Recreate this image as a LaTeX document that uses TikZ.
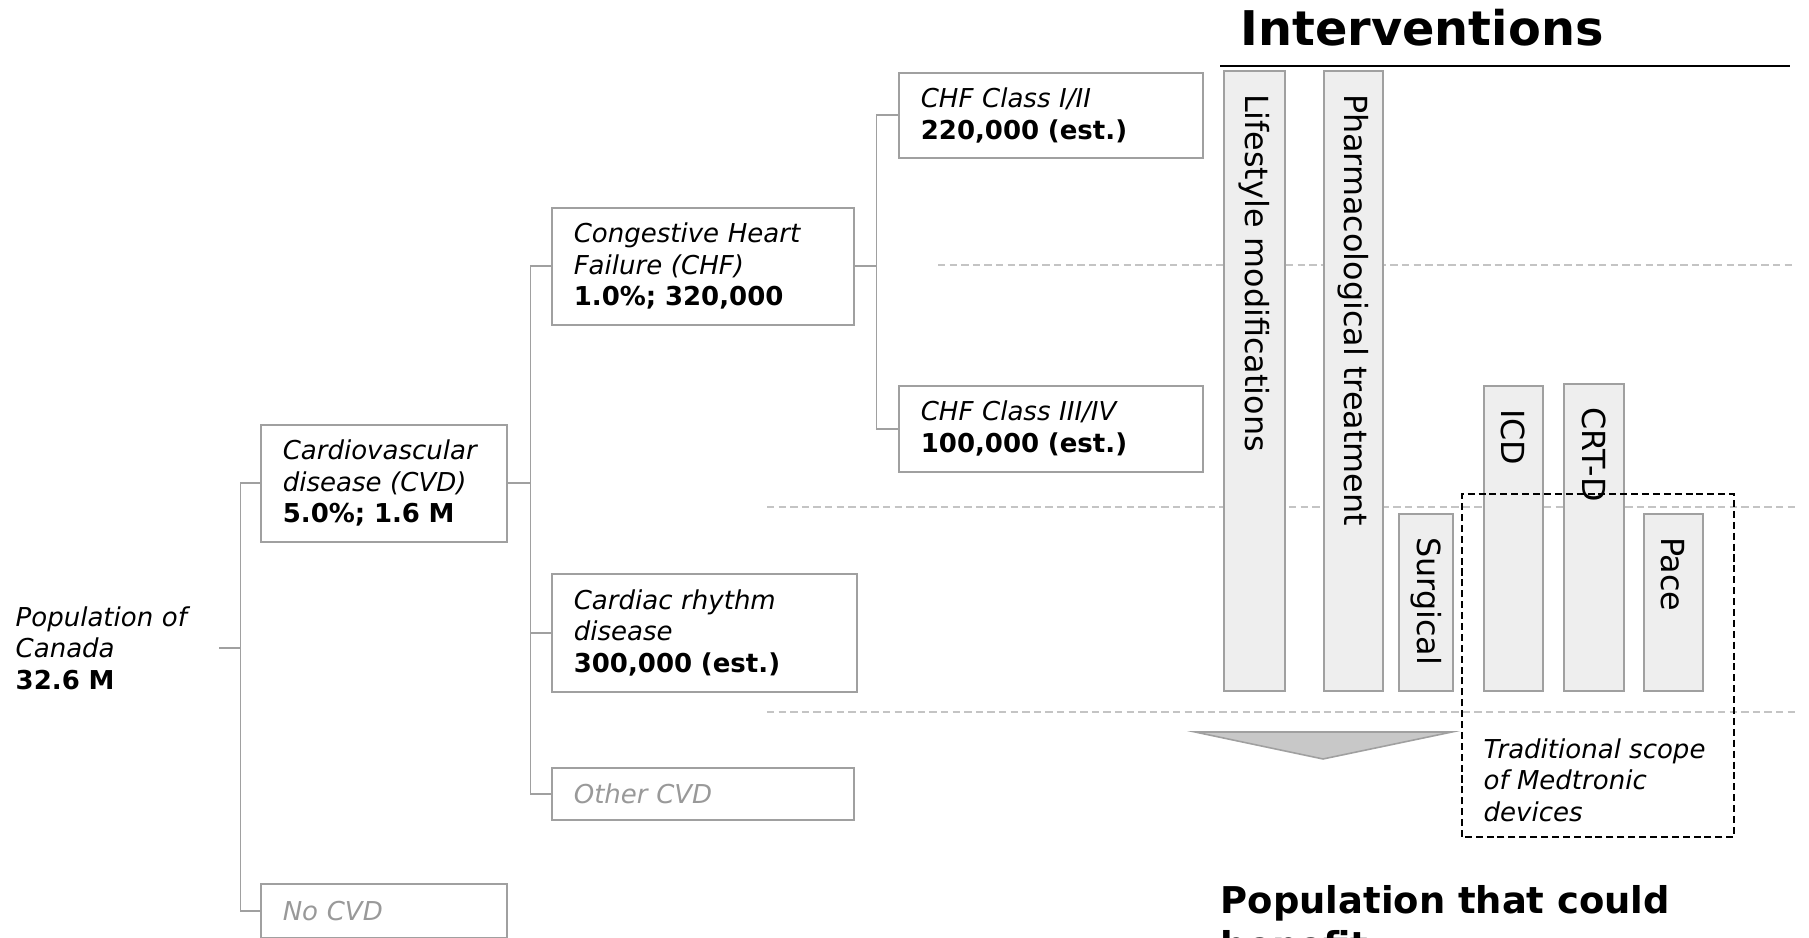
\documentclass[tikz,border=0pt]{standalone}
\usepackage{fontspec}
\setmainfont{DejaVu Sans}
\definecolor{linegray}{HTML}{A0A0A0}
\definecolor{barfill}{HTML}{EEEEEE}
\definecolor{dashgray}{HTML}{C4C4C4}
\definecolor{textgray}{HTML}{999999}
\definecolor{trifill}{HTML}{C8C8C8}
\tikzset{
  treebox/.style={draw=linegray, line width=0.45pt, anchor=north west,
    inner xsep=0.22cm, inner ysep=0pt, align=left,
    font=\fontsize{7.4}{9}\selectfont},
  link/.style={draw=linegray, line width=0.45pt},
  barbox/.style={draw=linegray, fill=barfill, line width=0.45pt,
    inner sep=0pt, anchor=south west},
  bartext/.style={rotate=-90, anchor=west, inner sep=0pt,
    font=\fontsize{9.05}{10}\selectfont},
  gridline/.style={draw=dashgray, line width=0.4pt, dash pattern=on 2.1pt off 1.2pt},
  scopeline/.style={draw=black, line width=0.5pt, dash pattern=on 2pt off 1.1pt}
}

\begin{document}
\begin{tikzpicture}
  \useasboundingbox (0,0) rectangle (18.09,9.38);
  \clip (0,0) rectangle (18.09,9.38);

  % level lines
  \draw[gridline] (9.38,6.73) -- (17.96,6.73);
  \draw[gridline] (7.67,4.31) -- (17.96,4.31);
  \draw[gridline] (7.67,2.26) -- (17.96,2.26);

  % population tree
  \node[anchor=west, inner sep=0pt, text width=2.03cm, align=left,
    font=\fontsize{7.4}{9}\selectfont] (pop) at (0.15,2.90)
    {\textit{Population of}\\\textit{Canada}\\\textbf{32.6 M}};
  \node[treebox, text width=2.02cm, minimum height=1.17cm] (cvd) at (2.60,5.14)
    {\textit{Cardiovascular}\\\textit{disease (CVD)}\\\textbf{5.0\%; 1.6 M}};
  \node[treebox, text width=2.02cm, minimum height=0.54cm, text=textgray] (nocvd) at (2.60,0.55)
    {\textit{No CVD}};
  \node[treebox, text width=2.58cm, minimum height=1.17cm] (chf) at (5.51,7.31)
    {\textit{Congestive Heart}\\\textit{Failure (CHF)}\\\textbf{1.0\%; 320,000}};
  \node[treebox, text width=2.61cm, minimum height=1.18cm] (crd) at (5.51,3.65)
    {\textit{Cardiac rhythm}\\\textit{disease}\\\textbf{300,000 (est.)}};
  \node[treebox, text width=2.58cm, minimum height=0.52cm, text=textgray] (other) at (5.51,1.71)
    {\textit{Other CVD}};
  \node[treebox, text width=2.60cm, minimum height=0.85cm] (chfa) at (8.98,8.66)
    {\textit{CHF Class I/II}\\\textbf{220,000 (est.)}};
  \node[treebox, text width=2.60cm, minimum height=0.86cm] (chfb) at (8.98,5.53)
    {\textit{CHF Class III/IV}\\\textbf{100,000 (est.)}};

  \draw[link] (pop.east) -- ++(0.21,0) |- (cvd.west);
  \draw[link] (pop.east) -- ++(0.21,0) |- (nocvd.west);
  \draw[link] (cvd.east) -- ++(0.23,0) |- (chf.west);
  \draw[link] (cvd.east) -- ++(0.23,0) |- (crd.west);
  \draw[link] (cvd.east) -- ++(0.23,0) |- (other.west);
  \draw[link] (chf.east) -- ++(0.22,0) |- (chfa.west);
  \draw[link] (chf.east) -- ++(0.22,0) |- (chfb.west);

  % interventions
  \node[anchor=base west, inner sep=0pt, font=\fontsize{13.6}{16}\selectfont\bfseries]
    (interv) at (12.40,8.92) {Interventions};
  \draw[line width=0.6pt] (12.20,8.72) -- (17.90,8.72);

  \node[barbox, minimum width=0.61cm, minimum height=6.20cm] (life) at (12.23,2.46) {};
  \node[barbox, minimum width=0.59cm, minimum height=6.20cm] (pharma) at (13.23,2.46) {};
  \node[barbox, minimum width=0.54cm, minimum height=1.77cm] (surg) at (13.98,2.46) {};
  \node[barbox, minimum width=0.59cm, minimum height=3.05cm] (icd) at (14.83,2.46) {};
  \node[barbox, minimum width=0.60cm, minimum height=3.07cm] (crtd) at (15.63,2.46) {};
  \node[barbox, minimum width=0.59cm, minimum height=1.77cm] (pace) at (16.43,2.46) {};

  \node[bartext] at ([yshift=-0.23cm]life.north) {Lifestyle modifications};
  \node[bartext] at ([yshift=-0.23cm]pharma.north) {Pharmacological treatment};
  \node[bartext] at ([yshift=-0.23cm]surg.north) {Surgical};
  \node[bartext] at ([yshift=-0.23cm]icd.north) {ICD};
  \node[bartext] at ([yshift=-0.23cm]crtd.north) {CRT-D};
  \node[bartext] at ([yshift=-0.23cm]pace.north) {Pace};

  % funnel arrow
  \draw[draw=linegray, fill=trifill, line width=0.45pt]
    (11.95,2.06) -- (14.52,2.06) -- (13.23,1.79) -- cycle;

  % medtronic scope
  \draw[scopeline] (14.62,1.01) rectangle (17.34,4.44);
  \node[anchor=west, inner sep=0pt, align=left, font=\fontsize{7.4}{9}\selectfont\itshape]
    (scope) at (14.83,1.58) {Traditional scope\\of Medtronic\\devices};

  \node[anchor=north west, inner sep=0pt, align=left,
    font=\fontsize{10.5}{12.6}\selectfont\bfseries]
    (benefit) at (12.20,0.53) {Population that could\\benefit};
\end{tikzpicture}
\end{document}
